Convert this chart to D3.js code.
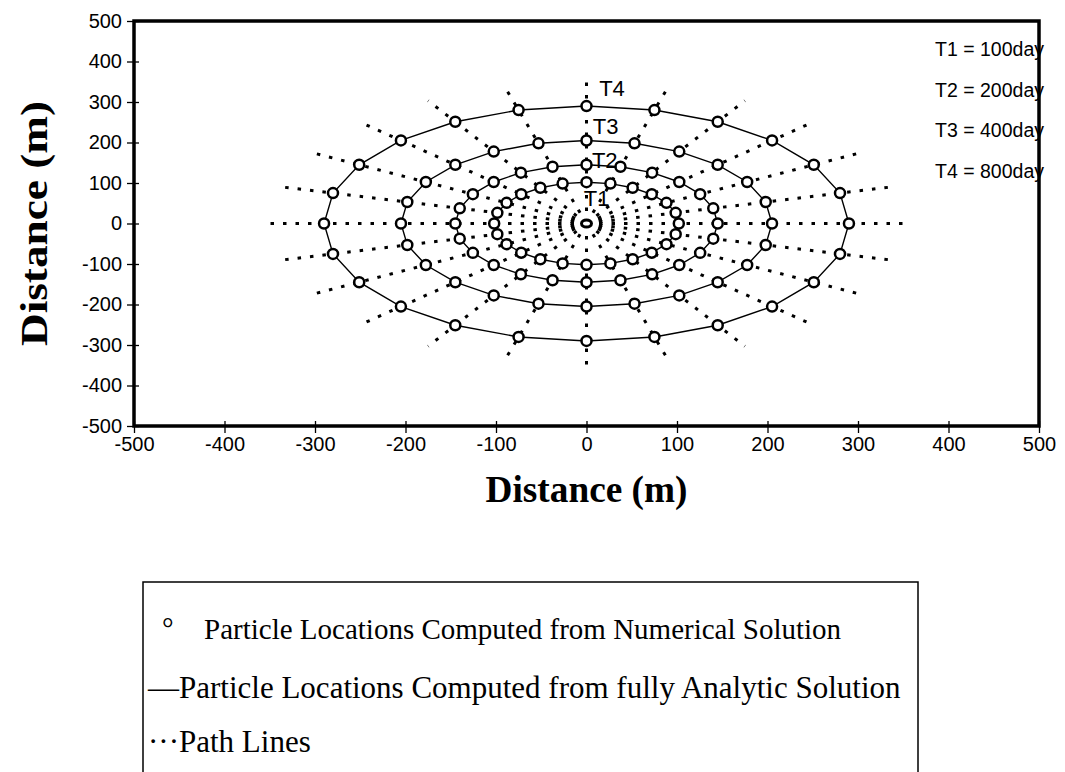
<!DOCTYPE html>
<html>
<head>
<meta charset="utf-8">
<script src="https://cdn.jsdelivr.net/npm/d3@7"></script>
<style>
  body { margin: 0; background: #fff; }
  svg { display: block; }
</style>
</head>
<body>
<div id="chart"></div>
<script>
'use strict'

// axis ticks (m)
const xTickValues = [-500, -400, -300, -200, -100, 0, 100, 200, 300, 400, 500]
const yTickValues = [-500, -400, -300, -200, -100, 0, 100, 200, 300, 400, 500]

// travel times and the distance reached (m)
const times = ['T1', 'T2', 'T3', 'T4']
const timeDays = [100, 200, 400, 800]
const ringRadius = [102, 145, 205, 290]

// bearing of each path line (deg, 0 = north, clockwise)
const bearings = [0, 15, 30, 45, 60, 75, 90, 105, 120, 135, 150, 165,
  180, 195, 210, 225, 240, 255, 270, 285, 300, 315, 330, 345]
const pathLineLength = 350

// where the T labels sit (data units, text start / baseline)
const ringLabelX = [-3, 6, 7, 14]
const ringLabelY = [43, 138, 222, 316]

const legendItems = [
  'Particle Locations Computed from Numerical Solution',
  '\u2014Particle Locations Computed from fully Analytic Solution',
  '\u00b7\u00b7\u00b7Path Lines'
]

const width = 1065
const height = 772

const svg = d3.select('#chart').append('svg')
  .attr('width', width)
  .attr('height', height)

svg.append('rect').attr('width', width).attr('height', height).attr('fill', '#fff')

const x = d3.scaleLinear().domain([-500, 500]).range([134, 1039])
const y = d3.scaleLinear().domain([-500, 500]).range([426, 21])

const sans = 'Liberation Sans, Arial, Helvetica, sans-serif'
const serif = 'Liberation Serif, Times New Roman, serif'

// polar (bearing, r) -> data x/y
function toXY(deg, r) {
  const p = d3.pointRadial(deg * Math.PI / 180, r)
  return [p[0], -p[1]]
}

const plot = svg.append('g')

// path lines
plot.selectAll('.path-line')
  .data(bearings)
  .enter()
  .append('line')
  .attr('class', 'path-line')
  .attr('x1', x(0))
  .attr('y1', y(0))
  .attr('x2', d => x(toXY(d, pathLineLength)[0]))
  .attr('y2', d => y(toXY(d, pathLineLength)[1]))
  .attr('stroke', '#000')
  .attr('stroke-width', 3)
  .attr('stroke-dasharray', '3.5 9')

// analytic fronts
const front = d3.line()
  .x(d => x(d[0]))
  .y(d => y(d[1]))
  .curve(d3.curveLinearClosed)

plot.selectAll('.front')
  .data(ringRadius)
  .enter()
  .append('path')
  .attr('class', 'front')
  .attr('d', r => front(bearings.map(b => toXY(b, r))))
  .attr('fill', 'none')
  .attr('stroke', '#000')
  .attr('stroke-width', 1.4)

// numerical particle locations
const points = []
ringRadius.forEach((r, i) => {
  bearings.forEach(b => points.push({ t: times[i], xy: toXY(b, r) }))
})

plot.selectAll('.particle')
  .data(points)
  .enter()
  .append('circle')
  .attr('class', 'particle')
  .attr('cx', d => x(d.xy[0]))
  .attr('cy', d => y(d.xy[1]))
  .attr('r', 5)
  .attr('fill', '#fff')
  .attr('stroke', '#000')
  .attr('stroke-width', 2.5)

// source at the origin
plot.append('ellipse')
  .attr('cx', x(0))
  .attr('cy', y(0))
  .attr('rx', 5)
  .attr('ry', 3.5)
  .attr('fill', '#fff')
  .attr('stroke', '#000')
  .attr('stroke-width', 3)

// T labels
plot.selectAll('.ring-label')
  .data(times)
  .enter()
  .append('text')
  .attr('class', 'ring-label')
  .attr('x', (d, i) => x(ringLabelX[i]))
  .attr('y', (d, i) => y(ringLabelY[i]))
  .attr('font-family', sans)
  .attr('font-size', 22)
  .text(d => d)

// time key, top right
svg.selectAll('.time-key')
  .data(times)
  .enter()
  .append('text')
  .attr('class', 'time-key')
  .attr('x', 1044)
  .attr('y', (d, i) => 56 + i * 40.5)
  .attr('text-anchor', 'end')
  .attr('font-family', sans)
  .attr('font-size', 19.5)
  .text((d, i) => `${d} = ${timeDays[i]}day`)

// axes
const yAxis = d3.axisLeft(y).tickValues(yTickValues).tickSize(7).tickSizeOuter(0)
  .tickPadding(5).tickFormat(d => String(d))
const xAxis = d3.axisBottom(x).tickValues(xTickValues).tickSize(7).tickSizeOuter(0)
  .tickPadding(4).tickFormat(d => String(d))

const gY = svg.append('g')
  .attr('transform', `translate(${x(-500)},0)`)
  .call(yAxis)
const gX = svg.append('g')
  .attr('transform', `translate(0,${y(-500)})`)
  .call(xAxis)

gY.select('.domain').remove()
gX.select('.domain').remove()
gY.selectAll('.tick line').attr('x1', 5).attr('stroke-width', 1.3)
gX.selectAll('.tick line').attr('y1', -5).attr('stroke-width', 1.3)
gY.selectAll('.tick text').attr('font-family', sans).attr('font-size', 20).attr('fill', '#000')
gX.selectAll('.tick text').attr('font-family', sans).attr('font-size', 20).attr('fill', '#000')

// plot frame
svg.append('rect')
  .attr('x', x(-500))
  .attr('y', y(500))
  .attr('width', x(500) - x(-500))
  .attr('height', y(-500) - y(500))
  .attr('fill', 'none')
  .attr('stroke', '#000')
  .attr('stroke-width', 3.5)

// axis titles
svg.append('text')
  .attr('x', x(0))
  .attr('y', 502)
  .attr('text-anchor', 'middle')
  .attr('font-family', serif)
  .attr('font-weight', 'bold')
  .attr('font-size', 37)
  .attr('textLength', 202)
  .attr('lengthAdjust', 'spacingAndGlyphs')
  .text('Distance (m)')

svg.append('text')
  .attr('transform', `translate(47,${y(0)}) rotate(-90)`)
  .attr('text-anchor', 'middle')
  .attr('font-family', serif)
  .attr('font-weight', 'bold')
  .attr('font-size', 38)
  .attr('textLength', 245)
  .attr('lengthAdjust', 'spacingAndGlyphs')
  .text('Distance (m)')

// legend box (runs off the bottom of the page)
svg.append('path')
  .attr('d', 'M143,790 V582 H918 V790')
  .attr('fill', 'none')
  .attr('stroke', '#000')
  .attr('stroke-width', 1.5)

svg.append('text')
  .attr('x', 162)
  .attr('y', 638)
  .attr('font-family', serif)
  .attr('font-size', 29)
  .text('\u00b0')

svg.selectAll('.legend-text')
  .data(legendItems)
  .enter()
  .append('text')
  .attr('class', 'legend-text')
  .attr('x', (d, i) => i === 0 ? 204 : 148)
  .attr('y', (d, i) => [639, 698, 752][i])
  .attr('font-family', serif)
  .attr('font-size', (d, i) => i === 0 ? 29 : 31)
  .text(d => d)
</script>
</body>
</html>
